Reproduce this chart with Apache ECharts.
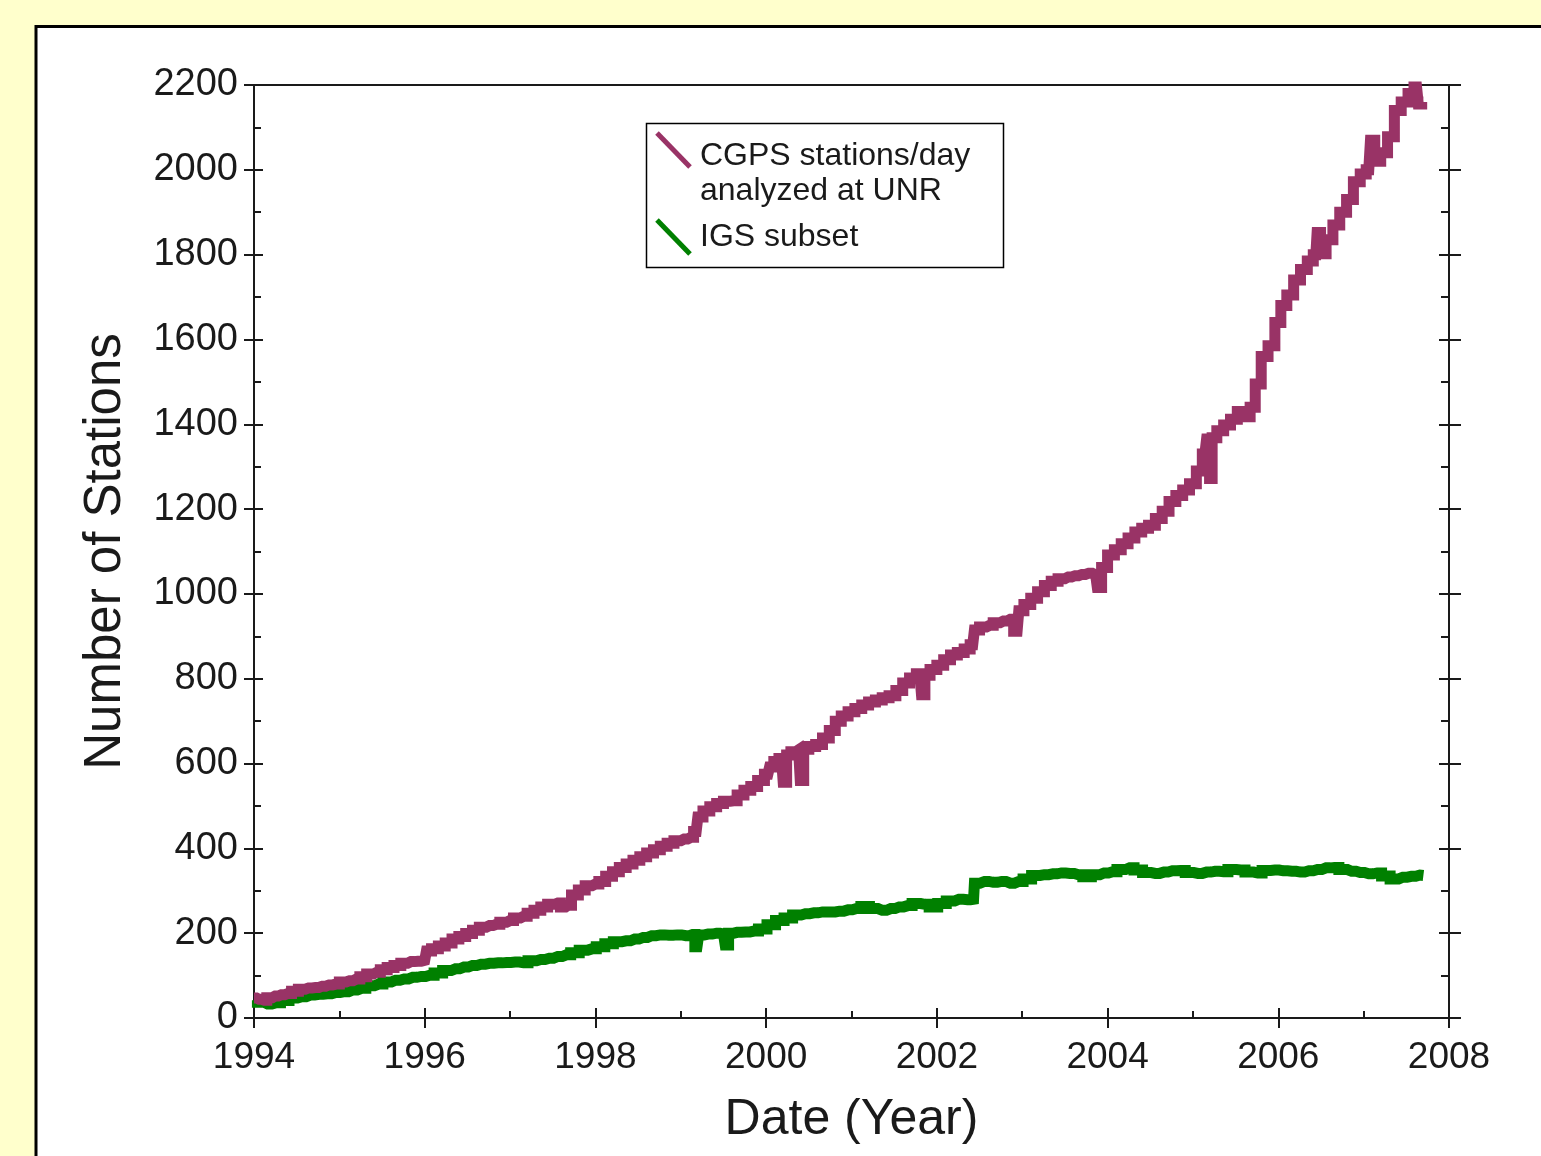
<!DOCTYPE html>
<html>
<head>
<meta charset="utf-8">
<script src="https://cdn.jsdelivr.net/npm/echarts@6/dist/echarts.min.js"></script>
<style>
html,body{margin:0;padding:0;background:#FFFFCC;}
#chart{width:1541px;height:1156px;}
</style>
</head>
<body>
<div id="chart"></div>
<script>
// ---- data ----
const xTickLabels = ['1994','1996','1998','2000','2002','2004','2006','2008'];
const yTickLabels = ['0','200','400','600','800','1000','1200','1400','1600','1800','2000','2200'];

const cgpsYears = [1994.00,1994.06,1994.12,1994.18,1994.25,1994.32,1994.40,1994.48,1994.56,1994.64,1994.72,1994.80,1994.88,1994.96,1995.04,1995.12,1995.20,1995.28,1995.36,1995.44,1995.52,1995.60,1995.68,1995.76,1995.84,1995.92,1996.00,1996.04,1996.12,1996.20,1996.28,1996.36,1996.44,1996.52,1996.60,1996.68,1996.76,1996.84,1996.92,1997.00,1997.08,1997.16,1997.24,1997.32,1997.40,1997.48,1997.56,1997.62,1997.68,1997.76,1997.84,1997.92,1998.00,1998.08,1998.16,1998.24,1998.32,1998.40,1998.48,1998.56,1998.64,1998.72,1998.80,1998.88,1998.96,1999.04,1999.12,1999.18,1999.22,1999.30,1999.38,1999.46,1999.54,1999.62,1999.70,1999.78,1999.86,1999.94,2000.02,2000.06,2000.12,2000.18,2000.22,2000.26,2000.32,2000.38,2000.42,2000.46,2000.54,2000.62,2000.70,2000.78,2000.84,2000.92,2001.00,2001.08,2001.16,2001.24,2001.32,2001.40,2001.48,2001.56,2001.64,2001.72,2001.80,2001.84,2001.88,2001.96,2002.04,2002.12,2002.20,2002.28,2002.36,2002.42,2002.46,2002.54,2002.62,2002.70,2002.78,2002.86,2002.94,2002.98,2003.06,2003.14,2003.22,2003.30,2003.38,2003.46,2003.54,2003.62,2003.70,2003.78,2003.86,2003.90,2003.96,2004.04,2004.12,2004.20,2004.28,2004.36,2004.44,2004.52,2004.60,2004.68,2004.76,2004.84,2004.92,2005.00,2005.08,2005.14,2005.18,2005.21,2005.24,2005.32,2005.40,2005.48,2005.56,2005.64,2005.70,2005.76,2005.84,2005.92,2006.00,2006.06,2006.14,2006.22,2006.30,2006.38,2006.44,2006.47,2006.52,2006.60,2006.68,2006.76,2006.84,2006.92,2007.00,2007.06,2007.10,2007.16,2007.24,2007.32,2007.40,2007.48,2007.56,2007.62,2007.66,2007.70];
const cgpsValues = [47,44,42,48,52,55,58,63,68,71,72,75,78,80,85,88,92,97,104,108,114,119,124,129,133,134,136,158,163,170,177,186,192,199,207,214,218,221,226,230,236,240,247,254,262,268,271,262,266,290,302,312,316,322,334,345,355,363,372,380,389,397,405,412,418,422,426,440,474,488,498,506,511,512,526,537,546,560,575,592,605,612,556,620,628,632,560,634,640,645,660,678,700,712,722,730,738,745,750,755,760,772,790,802,812,762,808,822,832,845,856,862,870,880,915,922,926,932,936,940,912,960,975,990,1005,1020,1030,1036,1040,1043,1046,1049,1045,1015,1062,1092,1104,1118,1132,1146,1155,1162,1178,1195,1218,1232,1245,1260,1290,1330,1365,1272,1368,1385,1398,1412,1430,1418,1440,1495,1560,1585,1640,1680,1705,1740,1765,1785,1800,1852,1802,1835,1870,1900,1930,1972,1990,2000,2070,2020,2040,2078,2140,2160,2180,2195,2155,2160];

const igsYears = [1994.00,1994.08,1994.16,1994.26,1994.36,1994.46,1994.56,1994.66,1994.76,1994.86,1994.96,1995.06,1995.16,1995.26,1995.36,1995.46,1995.56,1995.66,1995.76,1995.86,1995.96,1996.06,1996.16,1996.26,1996.36,1996.46,1996.56,1996.66,1996.76,1996.86,1996.96,1997.06,1997.16,1997.26,1997.36,1997.46,1997.56,1997.66,1997.76,1997.86,1997.96,1998.06,1998.16,1998.26,1998.36,1998.46,1998.56,1998.66,1998.76,1998.86,1998.96,1999.06,1999.14,1999.19,1999.23,1999.32,1999.42,1999.50,1999.54,1999.58,1999.66,1999.76,1999.86,1999.96,2000.06,2000.16,2000.26,2000.36,2000.46,2000.56,2000.66,2000.76,2000.86,2000.96,2001.06,2001.16,2001.26,2001.36,2001.46,2001.56,2001.66,2001.76,2001.86,2001.96,2002.06,2002.16,2002.26,2002.36,2002.43,2002.45,2002.56,2002.66,2002.76,2002.86,2002.96,2003.06,2003.16,2003.26,2003.36,2003.46,2003.56,2003.66,2003.76,2003.86,2003.96,2004.06,2004.16,2004.26,2004.36,2004.46,2004.56,2004.66,2004.76,2004.86,2004.96,2005.06,2005.16,2005.26,2005.36,2005.46,2005.56,2005.66,2005.76,2005.86,2005.96,2006.06,2006.16,2006.26,2006.36,2006.46,2006.56,2006.66,2006.76,2006.86,2006.96,2007.06,2007.16,2007.26,2007.36,2007.46,2007.56,2007.66,2007.70];
const igsValues = [42,37,33,36,41,47,50,54,56,57,60,62,66,70,76,80,85,89,92,96,98,101,106,112,116,120,124,127,129,130,131,132,130,135,138,141,145,149,154,160,163,168,175,180,182,186,190,194,196,195,196,194,197,168,196,198,200,198,172,200,202,203,205,210,220,230,236,243,246,248,250,250,252,255,258,263,258,254,258,262,265,270,268,262,270,276,280,279,280,318,322,320,322,318,322,328,336,338,340,342,341,338,333,338,342,345,350,354,349,343,341,344,347,348,343,341,344,346,345,350,349,344,342,348,349,347,346,344,347,350,354,355,350,346,343,340,342,335,328,332,334,337,336];

const cgpsName = 'CGPS stations/day analyzed at UNR';
const igsName = 'IGS subset';

// ---- chart ----
const FONT = '"Liberation Sans", Arial, sans-serif';
const INK = '#1a1a1a';
const PURPLE = '#993366';
const GREEN = '#008000';

function pairs(xs, ys){ return xs.map((x,i)=>[x, ys[i]]); }

const lineSt = {color: INK, width: 2};
const axisBase = {
  type: 'value',
  splitLine: {show: false},
  minorSplitLine: {show: false},
  axisLine: {show: true, onZero: false, lineStyle: lineSt}
};

const chart = echarts.init(document.getElementById('chart'), null, {renderer: 'canvas'});
chart.setOption({
  animation: false,
  backgroundColor: '#FFFFCC',
  textStyle: {fontFamily: FONT},
  grid: {left: 254, top: 85, right: 92, bottom: 138, containLabel: false},
  graphic: [
    {type: 'rect', z: -10, shape: {x: 36, y: 26.5, width: 1600, height: 1200},
     style: {fill: '#ffffff', stroke: '#000000', lineWidth: 3}},
    {type: 'rect', z: 100, shape: {x: 646.5, y: 123.5, width: 357, height: 144},
     style: {fill: '#ffffff', stroke: '#000000', lineWidth: 1.5}},
    {type: 'line', z: 101, shape: {x1: 657, y1: 133, x2: 690, y2: 167},
     style: {stroke: PURPLE, lineWidth: 5}},
    {type: 'line', z: 101, shape: {x1: 657, y1: 220, x2: 690, y2: 254},
     style: {stroke: GREEN, lineWidth: 5}},
    {type: 'text', z: 101, x: 700, y: 156,
     style: {text: 'CGPS stations/day', fill: INK, font: '32px ' + FONT, verticalAlign: 'middle'}},
    {type: 'text', z: 101, x: 700, y: 191,
     style: {text: 'analyzed at UNR', fill: INK, font: '32px ' + FONT, verticalAlign: 'middle'}},
    {type: 'text', z: 101, x: 700, y: 237,
     style: {text: 'IGS subset', fill: INK, font: '32px ' + FONT, verticalAlign: 'middle'}}
  ],
  xAxis: [
    Object.assign({}, axisBase, {
      position: 'bottom', min: 1994, max: 2008, interval: 2,
      axisTick: {show: true, inside: true, length: 10, lineStyle: lineSt},
      minorTick: {show: true, splitNumber: 2, length: 7, lineStyle: lineSt},
      axisLabel: {show: true, fontSize: 37, margin: 21, color: INK, fontFamily: FONT,
        formatter: v => xTickLabels[Math.round((v - 1994) / 2)]},
      name: 'Date (Year)', nameLocation: 'middle', nameGap: 77,
      nameTextStyle: {fontSize: 50, color: INK, fontFamily: FONT}
    }),
    Object.assign({}, axisBase, {
      position: 'bottom', min: 1994, max: 2008, interval: 2,
      axisTick: {show: true, inside: false, length: 10, lineStyle: lineSt},
      axisLabel: {show: false}
    }),
    Object.assign({}, axisBase, {
      position: 'top', min: 1994, max: 2008, interval: 2,
      axisTick: {show: false}, axisLabel: {show: false}
    })
  ],
  yAxis: [
    Object.assign({}, axisBase, {
      position: 'left', min: 0, max: 2200, interval: 200,
      axisTick: {show: true, inside: true, length: 9, lineStyle: lineSt},
      minorTick: {show: true, splitNumber: 2, length: 7, lineStyle: lineSt},
      axisLabel: {show: true, fontSize: 38, margin: 16, color: INK, fontFamily: FONT,
        formatter: v => yTickLabels[Math.round(v / 200)]},
      name: 'Number of Stations', nameLocation: 'middle', nameGap: 123, nameRotate: 90,
      nameTextStyle: {fontSize: 51, color: INK, fontFamily: FONT}
    }),
    Object.assign({}, axisBase, {
      position: 'left', min: 0, max: 2200, interval: 200,
      axisTick: {show: true, inside: false, length: 10, lineStyle: lineSt},
      axisLabel: {show: false}
    }),
    Object.assign({}, axisBase, {
      position: 'right', min: 0, max: 2200, interval: 200,
      axisTick: {show: true, inside: true, length: 10, lineStyle: lineSt},
      minorTick: {show: true, splitNumber: 2, length: 8, lineStyle: lineSt},
      axisLabel: {show: false}
    }),
    Object.assign({}, axisBase, {
      position: 'right', min: 0, max: 2200, interval: 200,
      axisTick: {show: true, inside: false, length: 12, lineStyle: lineSt},
      axisLabel: {show: false}
    })
  ],
  series: [
    {name: igsName, type: 'line', step: 'middle', xAxisIndex: 0, yAxisIndex: 0, showSymbol: false,
     data: pairs(igsYears, igsValues), lineStyle: {color: GREEN, width: 11, join: 'miter', cap: 'butt'}, itemStyle: {color: GREEN}, z: 3},
    {name: cgpsName, type: 'line', step: 'middle', xAxisIndex: 0, yAxisIndex: 0, showSymbol: false,
     data: pairs(cgpsYears, cgpsValues), lineStyle: {color: PURPLE, width: 11, join: 'miter', cap: 'butt'}, itemStyle: {color: PURPLE}, z: 4}
  ]
});
</script>
</body>
</html>
